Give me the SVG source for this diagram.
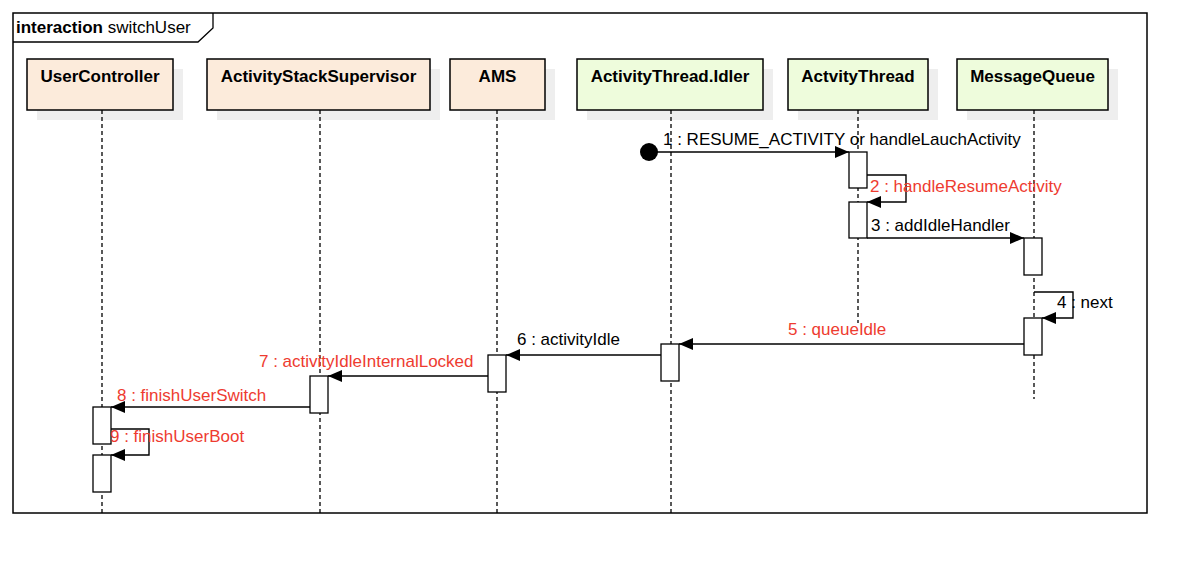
<svg xmlns="http://www.w3.org/2000/svg" width="1200" height="566" viewBox="0 0 1200 566">
<style>
.head{stroke:#000;stroke-width:1.5}
.peach{fill:#fcebdb}
.green{fill:#eefcdc}
.shadow{fill:#eeeeee}
.hname{font-family:"Liberation Sans",Arial,sans-serif;font-size:17px;font-weight:bold;fill:#000;text-anchor:middle}
.life{stroke:#000;stroke-width:1.3;stroke-dasharray:4,3;fill:none}
.act{fill:#fff;stroke:#000;stroke-width:1.3}
.msg{stroke:#000;stroke-width:1.4;fill:none}
.lbl{font-family:"Liberation Sans",Arial,sans-serif;font-size:17px;fill:#000}
.red{fill:#ee3b30}
</style>
<defs>
<marker id="arr" markerWidth="14" markerHeight="12" refX="14" refY="6" orient="auto" markerUnits="userSpaceOnUse">
<path d="M0,0 L14,6 L0,12 z" fill="#000"/>
</marker>
</defs>
<rect x="0" y="0" width="1200" height="566" fill="#fff"/>
<g id="frame">
<rect x="13" y="13" width="1134" height="500" fill="none" stroke="#000" stroke-width="1.5"/>
<path d="M13,42 H198 L213,28 V13" fill="none" stroke="#000" stroke-width="1.3"/>
<text x="16" y="33" font-family="Liberation Sans,Arial,sans-serif" font-size="17" fill="#000"><tspan font-weight="bold">interaction</tspan> switchUser</text>
</g>
<g id="UserController">
<rect class="shadow" x="37" y="69" width="146" height="51"/>
<rect class="head peach" x="27" y="59" width="146" height="51"/>
<text class="hname" x="100" y="82">UserController</text>
<line class="life" x1="102" y1="110" x2="102" y2="513"/>
<rect class="act" x="93" y="407" width="18" height="37"/>
<rect class="act" x="93" y="455" width="18" height="37"/>
</g>
<g id="ActivityStackSupervisor">
<rect class="shadow" x="217" y="69" width="223" height="51"/>
<rect class="head peach" x="207" y="59" width="223" height="51"/>
<text class="hname" x="318.5" y="82">ActivityStackSupervisor</text>
<line class="life" x1="320" y1="110" x2="320" y2="513"/>
<rect class="act" x="310" y="376" width="18" height="37"/>
</g>
<g id="AMS">
<rect class="shadow" x="460" y="69" width="95" height="51"/>
<rect class="head peach" x="450" y="59" width="95" height="51"/>
<text class="hname" x="497.5" y="82">AMS</text>
<line class="life" x1="497" y1="110" x2="497" y2="513"/>
<rect class="act" x="488" y="355" width="18" height="37"/>
</g>
<g id="ActivityThreadIdler">
<rect class="shadow" x="587" y="69" width="186" height="51"/>
<rect class="head green" x="577" y="59" width="186" height="51"/>
<text class="hname" x="670" y="82">ActivityThread.Idler</text>
<line class="life" x1="671" y1="110" x2="671" y2="513"/>
<rect class="act" x="661" y="344" width="18" height="37"/>
</g>
<g id="ActvityThread">
<rect class="shadow" x="798" y="69" width="140" height="51"/>
<rect class="head green" x="788" y="59" width="140" height="51"/>
<text class="hname" x="858" y="82">ActvityThread</text>
<line class="life" x1="858" y1="110" x2="858" y2="323"/>
<rect class="act" x="849" y="152" width="18" height="36"/>
<rect class="act" x="849" y="202" width="18" height="36"/>
</g>
<g id="MessageQueue">
<rect class="shadow" x="967" y="69" width="151" height="51"/>
<rect class="head green" x="957" y="59" width="151" height="51"/>
<text class="hname" x="1032.5" y="82">MessageQueue</text>
<line class="life" x1="1034" y1="110" x2="1034" y2="399"/>
<rect class="act" x="1024" y="238" width="18" height="37"/>
<rect class="act" x="1024" y="318" width="18" height="37"/>
</g>
<g id="connectors">
<circle cx="649" cy="152" r="9" fill="#000"/>
<line class="msg" x1="649" y1="152" x2="849" y2="152" marker-end="url(#arr)"/>
<text class="lbl" x="663" y="145">1 : RESUME_ACTIVITY or handleLauchActivity</text>
<path class="msg" d="M867,175 H906 V202 H867" marker-end="url(#arr)"/>
<text class="lbl red" x="870" y="192">2 : handleResumeActivity</text>
<line class="msg" x1="867" y1="238" x2="1024" y2="238" marker-end="url(#arr)"/>
<text class="lbl" x="871" y="231">3 : addIdleHandler</text>
<path class="msg" d="M1034,292 H1073 V318 H1042" marker-end="url(#arr)"/>
<text class="lbl" x="1057" y="308">4 : next</text>
<line class="msg" x1="1024" y1="344" x2="679" y2="344" marker-end="url(#arr)"/>
<text class="lbl red" x="788" y="335">5 : queueIdle</text>
<line class="msg" x1="661" y1="355" x2="506" y2="355" marker-end="url(#arr)"/>
<text class="lbl" x="517" y="345">6 : activityIdle</text>
<line class="msg" x1="488" y1="376" x2="328" y2="376" marker-end="url(#arr)"/>
<text class="lbl red" x="259" y="367">7 : activityIdleInternalLocked</text>
<line class="msg" x1="310" y1="407" x2="111" y2="407" marker-end="url(#arr)"/>
<text class="lbl red" x="117" y="401">8 : finishUserSwitch</text>
<path class="msg" d="M111,429 H149 V455 H111" marker-end="url(#arr)"/>
<text class="lbl red" x="110" y="442">9 : finishUserBoot</text>
</g>
</svg>
